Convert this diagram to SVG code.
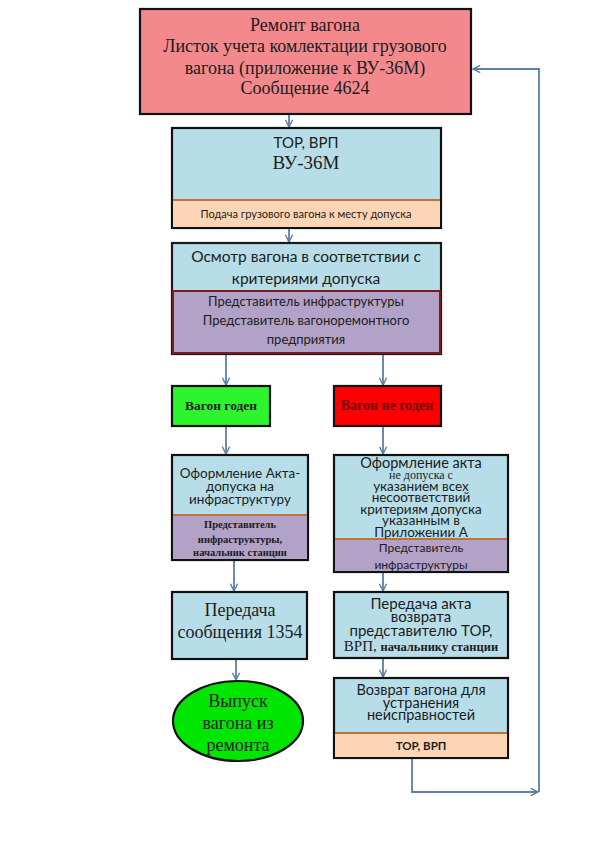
<svg xmlns="http://www.w3.org/2000/svg" width="614" height="859" viewBox="0 0 614 859">
<style>
.serif{font-family:"Liberation Serif","Times New Roman",serif;}
.sans{font-family:Lato,"Open Sans","Liberation Sans",sans-serif;}
text{text-anchor:middle;fill:#1c1c1c;}
.box{stroke:#111;stroke-width:2.2;}
.blue{fill:#b7dee8;}
.orange{fill:#fcd5b5;}
.purple{fill:#b3a2c7;}
.sep{stroke:#c0703a;stroke-width:2;}
.conn{fill:none;stroke:#5b7fa8;stroke-width:1.8;}
</style>
<defs>
<marker id="arr" viewBox="0 0 10 10" refX="9" refY="5" markerWidth="9" markerHeight="9" orient="auto" markerUnits="userSpaceOnUse">
<path d="M1,1 L9,5 L1,9" fill="none" stroke="#5b7fa8" stroke-width="1.6"/>
</marker>
</defs>
<rect width="614" height="859" fill="#ffffff"/>

<g id="connectors">
<line class="conn" x1="289" y1="115" x2="289" y2="127" marker-end="url(#arr)"/>
<line class="conn" x1="289" y1="229" x2="289" y2="242" marker-end="url(#arr)"/>
<line class="conn" x1="226" y1="355" x2="226" y2="385" marker-end="url(#arr)"/>
<line class="conn" x1="383" y1="355" x2="383" y2="385" marker-end="url(#arr)"/>
<line class="conn" x1="226" y1="427" x2="226" y2="454" marker-end="url(#arr)"/>
<line class="conn" x1="383" y1="427" x2="383" y2="454" marker-end="url(#arr)"/>
<line class="conn" x1="234" y1="561" x2="234" y2="591" marker-end="url(#arr)"/>
<line class="conn" x1="383" y1="573" x2="383" y2="591" marker-end="url(#arr)"/>
<line class="conn" x1="236" y1="660" x2="236" y2="680" marker-end="url(#arr)"/>
<line class="conn" x1="383" y1="659" x2="383" y2="677" marker-end="url(#arr)"/>
<polyline class="conn" points="412,759 412,792 538,792" marker-end="url(#arr)"/>
<polyline class="conn" points="539,792 539,69 473,69" marker-end="url(#arr)"/>
</g>

<g id="n_remont">
<rect class="box" x="140" y="9" width="331" height="105" fill="#f4898d"/>
<text class="serif" x="305" y="31" font-size="18">Ремонт вагона</text>
<text class="serif" x="305" y="52" font-size="18">Листок учета комлектации грузового</text>
<text class="serif" x="305" y="74" font-size="18">вагона (приложение к ВУ-36М)</text>
<text class="serif" x="305" y="94" font-size="18">Сообщение 4624</text>
</g>

<g id="n_tor">
<rect class="box blue" x="172" y="128" width="269" height="100"/>
<rect class="orange" x="173" y="200" width="267" height="27"/>
<line class="sep" x1="173" y1="200" x2="440" y2="200"/>
<text class="sans" x="306" y="148" font-size="15">ТОР, ВРП</text>
<text class="serif" x="306" y="169" font-size="19">ВУ-36М</text>
<text class="sans" x="306" y="218" font-size="11">Подача грузового вагона к месту допуска</text>
</g>

<g id="n_osmotr">
<rect x="172" y="243" width="269" height="111" class="blue" stroke="#1a1a1a" stroke-width="2.2"/>
<rect class="purple" x="173" y="291" width="267" height="62" stroke="#7a1c1c" stroke-width="2"/>
<text class="sans" x="306" y="262" font-size="15.5">Осмотр вагона в соответствии с</text>
<text class="sans" x="306" y="284" font-size="15.5">критериями допуска</text>
<text class="sans" x="306" y="306" font-size="13">Представитель инфраструктуры</text>
<text class="sans" x="306" y="325" font-size="13">Представитель вагоноремонтного</text>
<text class="sans" x="306" y="344" font-size="13">предприятия</text>
</g>

<g id="n_goden">
<rect class="box" x="172" y="386" width="98" height="40" fill="#2df52d"/>
<text class="serif" x="221" y="410" font-size="13.5" font-weight="bold" fill="#1a3a1a">Вагон годен</text>
</g>

<g id="n_negoden">
<rect class="box" x="334" y="386" width="107" height="40" fill="#ff0000"/>
<text class="serif" x="387" y="410" font-size="14" font-weight="bold" style="fill:#700000">Вагон не годен</text>
</g>

<g id="n_akt_dopuska">
<rect class="box blue" x="172" y="455" width="136" height="105"/>
<rect class="purple" x="173" y="515" width="134" height="44"/>
<line class="sep" x1="173" y1="515" x2="307" y2="515"/>
<text class="sans" x="240" y="478" font-size="13.5">Оформление Акта-</text>
<text class="sans" x="240" y="491" font-size="13.5">допуска на</text>
<text class="sans" x="240" y="504" font-size="13.5">инфраструктуру</text>
<text class="serif" x="240" y="528" font-size="10.5" font-weight="bold">Представитель</text>
<text class="serif" x="240" y="543" font-size="10.5" font-weight="bold">инфраструктуры,</text>
<text class="serif" x="240" y="556" font-size="10.5" font-weight="bold">начальник станции</text>
</g>

<g id="n_akt_nedopuska">
<rect class="box blue" x="334" y="455" width="174" height="117"/>
<rect class="purple" x="335" y="539" width="172" height="32"/>
<line class="sep" x1="335" y1="539" x2="507" y2="539"/>
<text class="sans" x="421" y="468" font-size="14.5">Оформление акта</text>
<text class="serif" x="421" y="479" font-size="12">не допуска с</text>
<text class="sans" x="421" y="490.5" font-size="13.5">указанием всех</text>
<text class="sans" x="421" y="502" font-size="13.5">несоответствий</text>
<text class="sans" x="421" y="513.5" font-size="13.5">критериям допуска</text>
<text class="sans" x="421" y="525" font-size="13.5">указанным в</text>
<text class="sans" x="421" y="536.5" font-size="13.5">Приложении А</text>
<text class="sans" x="421" y="552" font-size="12">Представитель</text>
<text class="sans" x="421" y="569" font-size="12">инфраструктуры</text>
</g>

<g id="n_peredacha_1354">
<rect class="box blue" x="172" y="592" width="135" height="67"/>
<text class="serif" x="240" y="616" font-size="18">Передача</text>
<text class="serif" x="240" y="638" font-size="18">сообщения 1354</text>
</g>

<g id="n_vypusk">
<ellipse cx="238" cy="721" rx="65" ry="40" fill="#00e600" stroke="#111" stroke-width="2.2"/>
<text class="serif" x="238" y="707" font-size="18" fill="#1a3a1a">Выпуск</text>
<text class="serif" x="238" y="729" font-size="18" fill="#1a3a1a">вагона из</text>
<text class="serif" x="238" y="751" font-size="18" fill="#1a3a1a">ремонта</text>
</g>

<g id="n_peredacha_akta">
<rect class="box blue" x="334" y="592" width="174" height="66"/>
<text class="sans" x="421" y="609" font-size="15">Передача акта</text>
<text class="sans" x="421" y="622" font-size="15">возврата</text>
<text class="sans" x="421" y="636" font-size="15">представителю ТОР,</text>
<text class="serif" x="421" y="651" font-size="15">ВРП, <tspan font-weight="bold" font-size="12.5">начальнику станции</tspan></text>
</g>

<g id="n_vozvrat">
<rect class="box blue" x="334" y="678" width="174" height="80"/>
<rect class="orange" x="335" y="733" width="172" height="24"/>
<line class="sep" x1="335" y1="733" x2="507" y2="733"/>
<text class="sans" x="421" y="695" font-size="14.5">Возврат вагона для</text>
<text class="sans" x="421" y="707.5" font-size="14.5">устранения</text>
<text class="sans" x="421" y="720" font-size="14.5">неисправностей</text>
<text class="sans" x="421" y="750" font-size="11.5" font-weight="bold">ТОР, ВРП</text>
</g>
</svg>
